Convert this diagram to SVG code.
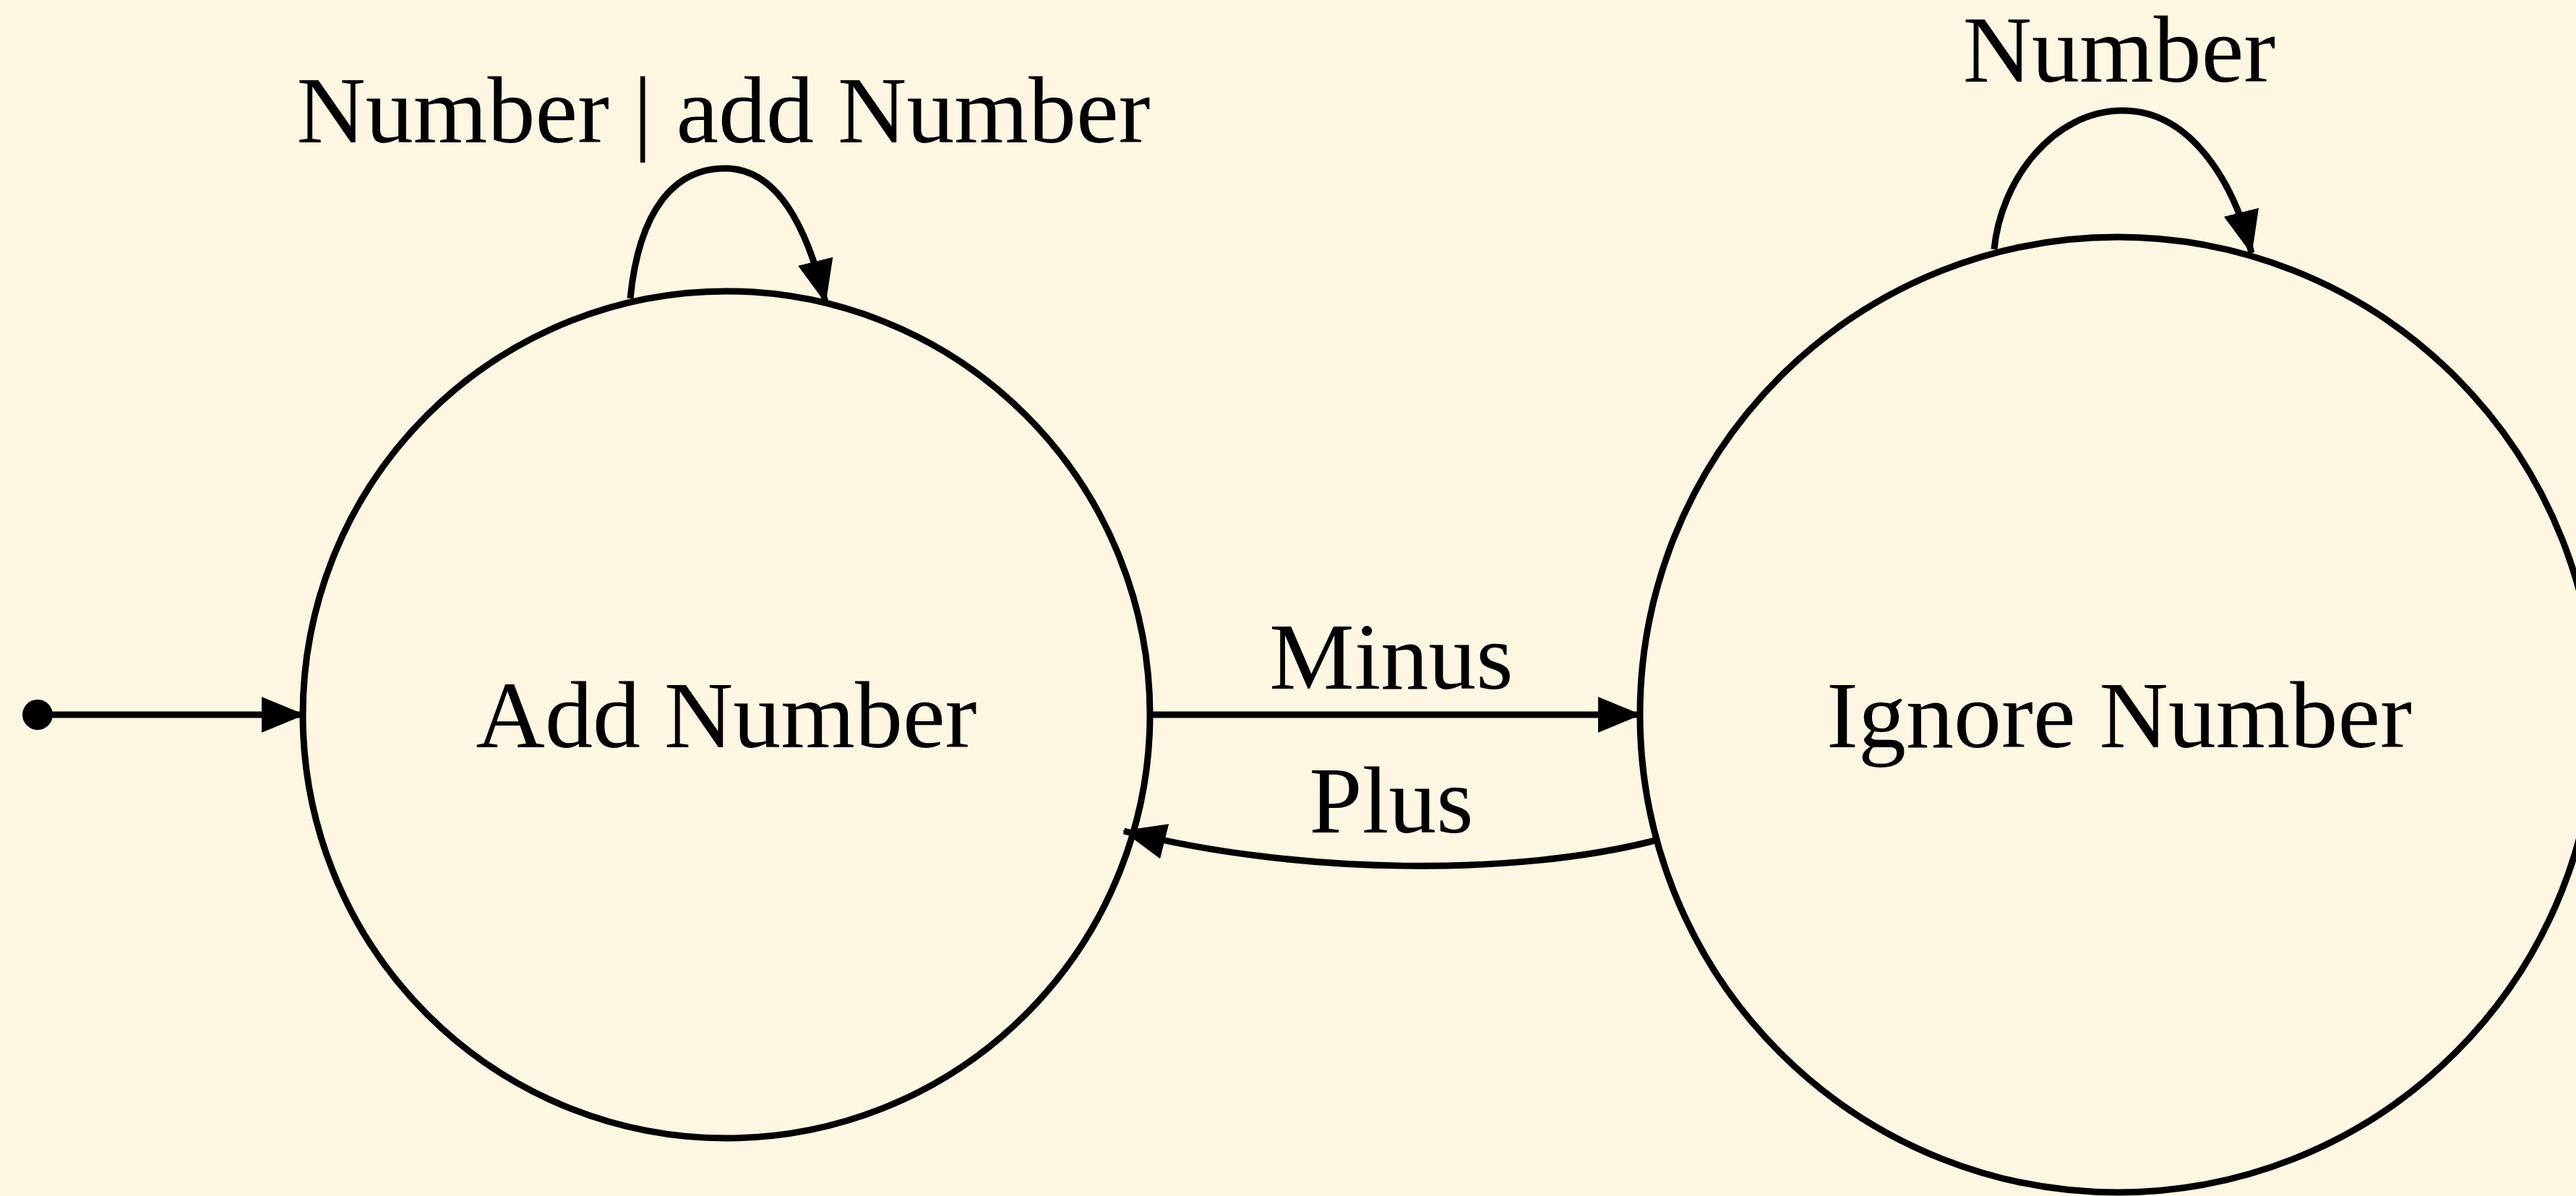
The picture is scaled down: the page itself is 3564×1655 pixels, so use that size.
<svg xmlns="http://www.w3.org/2000/svg" width="3564" height="1655" viewBox="0 0 3564 1655">
  <style>
    .node { fill: none; stroke: #000; stroke-width: 9; }
    .edge { fill: none; stroke: #000; stroke-width: 9; }
    text { font-family: "Liberation Serif", "Times New Roman", serif; font-size: 132px; fill: #000; text-anchor: middle; }
  </style>
  <defs>
    <marker id="arrow" markerUnits="userSpaceOnUse" markerWidth="60" markerHeight="50" viewBox="0 0 58 48" refX="56" refY="24" orient="auto">
      <path d="M0,0 L58,24 L0,48 z" fill="#000"/>
    </marker>
  </defs>
  <rect x="0" y="0" width="3564" height="1655" fill="#fdf6e3"/>

  <g id="connectors">
    <circle id="start" cx="52" cy="989" r="21" fill="#000"/>
    <path class="edge" d="M52,989 L420,989" marker-end="url(#arrow)"/>
    <path class="edge" d="M872,413 C884,292 932,233 1003,233 C1075,233 1116,312 1142,418" marker-end="url(#arrow)"/>
    <path class="edge" d="M1591,989 L2269,989" marker-end="url(#arrow)"/>
    <path class="edge" d="M2290,1163 C2100,1212 1800,1212 1555,1150" marker-end="url(#arrow)"/>
    <path class="edge" d="M2759,345 C2768,250 2840,153 2937,153 C3030,153 3090,250 3115,350" marker-end="url(#arrow)"/>
    <text x="1001" y="197">Number | add Number</text>
    <text x="1925" y="953">Minus</text>
    <text x="1925" y="1152">Plus</text>
    <text x="2932" y="113">Number</text>
  </g>

  <g id="add-number">
    <circle class="node" cx="1005" cy="989" r="586"/>
    <text x="1005" y="1034">Add Number</text>
  </g>

  <g id="ignore-number">
    <circle class="node" cx="2930" cy="989" r="661"/>
    <text x="2932" y="1034">Ignore Number</text>
  </g>
</svg>
